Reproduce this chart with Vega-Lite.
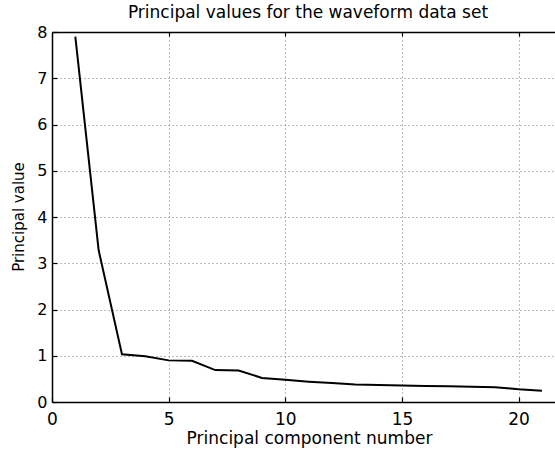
{
  "$schema": "https://vega.github.io/schema/vega-lite/v6.json",
  "autosize": {"type": "none"},
  "width": 503,
  "height": 370,
  "padding": {"left": 52, "top": 32, "right": 0, "bottom": 50},
  "background": "white",
  "title": {
    "text": "Principal values for the waveform data set",
    "font": "DejaVu Sans",
    "fontSize": 17,
    "fontWeight": "normal",
    "color": "black",
    "anchor": "middle",
    "frame": "group",
    "dx": 4.5,
    "offset": -11,
    "baseline": "alphabetic"
  },
  "config": {
    "view": {"stroke": null},
    "axis": {
      "labelFont": "DejaVu Sans",
      "titleFont": "DejaVu Sans",
      "labelColor": "black",
      "titleColor": "black",
      "titleFontWeight": "normal",
      "domainColor": "black",
      "domainWidth": 1.5,
      "tickColor": "black",
      "tickWidth": 1.2,
      "gridColor": "#777777",
      "gridDash": [1, 3],
      "gridWidth": 1,
      "gridOpacity": 1,
      "labelFlush": false,
      "labelOverlap": false
    }
  },
  "data": {
    "values": [
      {"component": 1, "value": 7.9},
      {"component": 2, "value": 3.28},
      {"component": 3, "value": 1.03},
      {"component": 4, "value": 0.99},
      {"component": 5, "value": 0.9},
      {"component": 6, "value": 0.89},
      {"component": 7, "value": 0.69},
      {"component": 8, "value": 0.68},
      {"component": 9, "value": 0.52},
      {"component": 10, "value": 0.48},
      {"component": 11, "value": 0.44},
      {"component": 12, "value": 0.41},
      {"component": 13, "value": 0.38},
      {"component": 14, "value": 0.37},
      {"component": 15, "value": 0.355},
      {"component": 16, "value": 0.345},
      {"component": 17, "value": 0.34},
      {"component": 18, "value": 0.33},
      {"component": 19, "value": 0.32},
      {"component": 20, "value": 0.275},
      {"component": 21, "value": 0.245}
    ]
  },
  "layer": [
    {
      "mark": {"type": "line", "color": "black", "strokeWidth": 2},
      "encoding": {
        "x": {
          "field": "component",
          "type": "quantitative",
          "scale": {"domain": [0, 21.56], "nice": false, "zero": false},
          "axis": {
            "orient": "bottom",
            "values": [0, 5, 10, 15, 20],
            "tickSize": -5,
            "labelPadding": 14,
            "labelFontSize": 17,
            "grid": true,
            "title": "Principal component number",
            "titleFontSize": 17,
            "titleX": 257,
            "titleY": 41,
            "titleAlign": "center",
            "titleBaseline": "alphabetic"
          }
        },
        "y": {
          "field": "value",
          "type": "quantitative",
          "scale": {"domain": [0, 8], "nice": false},
          "axis": {
            "values": [0, 1, 2, 3, 4, 5, 6, 7, 8],
            "tickSize": -5,
            "labelPadding": 10,
            "labelFontSize": 16,
            "grid": true,
            "title": "Principal value",
            "titleFontSize": 15,
            "titleX": -29,
            "titleY": 184.5,
            "titleAngle": -90,
            "titleAlign": "center",
            "titleBaseline": "alphabetic"
          }
        }
      }
    },
    {
      "mark": {"type": "rule", "opacity": 0},
      "encoding": {
        "x": {
          "field": "component",
          "type": "quantitative",
          "axis": {
            "orient": "top",
            "values": [5, 10, 15, 20],
            "labels": false,
            "grid": false,
            "title": null,
            "tickSize": -4
          }
        }
      }
    }
  ],
  "resolve": {"axis": {"x": "independent"}}
}
